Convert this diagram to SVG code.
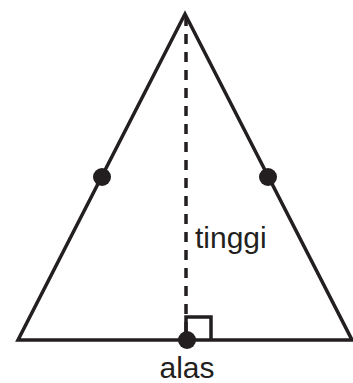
<svg xmlns="http://www.w3.org/2000/svg" width="353" height="383" viewBox="0 0 353 383">
<style>
.s{fill:none;stroke:#231f20;stroke-width:3.5;stroke-linejoin:miter}
.d{fill:#231f20}
.t{font-family:"Liberation Sans",Arial,sans-serif;font-size:30px;fill:#231f20}
</style>
<rect width="353" height="383" fill="#fff"/>
<g id="connectors">
<line x1="186" y1="16" x2="186" y2="340" stroke="#231f20" stroke-width="3.5" stroke-dasharray="10,8"/>
<polyline class="s" points="186,340 186,317 211,317 211,340" stroke-width="2.5"/>
</g>
<g id="triangle">
<polygon class="s" points="185,14 18,340 352,340"/>
</g>
<g id="dot-left"><circle class="d" cx="102" cy="177" r="9"/></g>
<g id="dot-right"><circle class="d" cx="268" cy="177" r="9"/></g>
<g id="dot-base"><circle class="d" cx="187" cy="340" r="9"/></g>
<g id="label-tinggi"><text class="t" x="195" y="248">tinggi</text></g>
<g id="label-alas"><text class="t" x="187" y="378" text-anchor="middle">alas</text></g>
</svg>
